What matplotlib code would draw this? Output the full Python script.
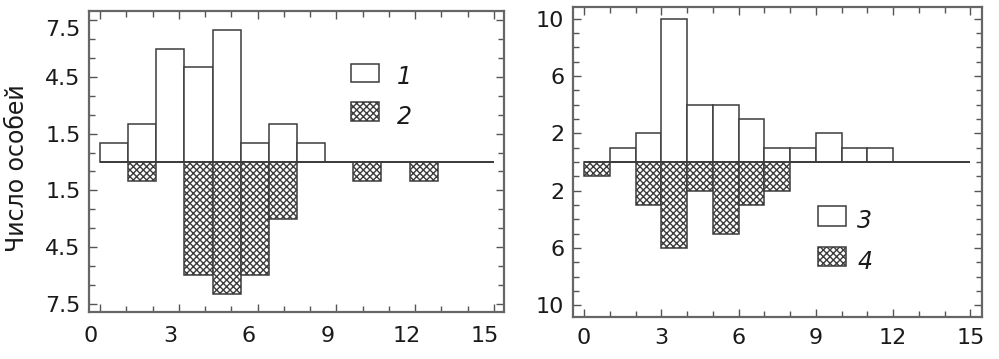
import numpy as np
import matplotlib
matplotlib.use("Agg")
import matplotlib.pyplot as plt
from matplotlib.patches import Rectangle
from matplotlib.ticker import FixedLocator
from matplotlib.transforms import ScaledTranslation

plt.rcParams['font.family'] = ['DejaVu Sans']

# left panel: 14 bins spread over 0..15
left_up = [1, 2, 6, 5, 7, 1, 2, 1, 0, 0, 0, 0, 0, 0]
left_down = [0, 1, 0, 6, 7, 6, 3, 0, 0, 1, 0, 1, 0, 0]
left_yticks = [-7.5, -4.5, -1.5, 1.5, 4.5, 7.5]
left_ylabels = ["7.5", "4.5", "1.5", "1.5", "4.5", "7.5"]

# right panel: 15 bins of width 1
right_up = [0, 1, 2, 10, 4, 4, 3, 1, 1, 2, 1, 1, 0, 0, 0]
right_down = [1, 0, 3, 6, 2, 5, 3, 2, 0, 0, 0, 0, 0, 0, 0]
right_yticks = [-10, -6, -2, 2, 6, 10]
right_ylabels = ["10", "6", "2", "2", "6", "10"]

xticks = [0, 3, 6, 9, 12, 15]
x_max = 15

EDGE = "#3c3c3c"
HATCH = "#505050"
HATCH_PATTERN = "xxxxx"
plt.rcParams['hatch.color'] = HATCH
plt.rcParams['hatch.linewidth'] = 1.0


def draw_panel(ax, up, down, labels):
    n = len(up)
    width = x_max / n
    x = np.arange(n) * width
    ax.bar(x, up, width=width, align="edge", color="white",
           edgecolor=EDGE, linewidth=1.1, zorder=2)
    ax.bar(x, -np.array(down), width=width, align="edge", color="white",
           edgecolor=EDGE, linewidth=1.1, hatch=HATCH_PATTERN, zorder=2)
    ax.hlines(0, 0, x_max, color=EDGE, linewidth=1.1, zorder=3)

    ax.set_xticks(xticks)
    ax.xaxis.set_minor_locator(FixedLocator(np.arange(0, x_max + 1)))
    ax.tick_params(which="both", direction="in", top=True, right=True,
                   color="#555555", labelsize=16, labelcolor="#1a1a1a")
    ax.tick_params(which="major", length=6, width=1)
    ax.tick_params(which="minor", length=4.5, width=1)
    for s in ax.spines.values():
        s.set_color("#666666")
        s.set_linewidth(1.6)

    # legend boxes
    for lab, h in zip(labels, [None, HATCH_PATTERN]):
        bx, by, bw, bh = lab["box"]
        ax.add_patch(Rectangle((bx, by), bw, bh, transform=ax.transAxes,
                               facecolor="white", edgecolor=EDGE,
                               linewidth=1.1, hatch=h, zorder=4))
        ax.text(lab["tx"], lab["ty"], lab["text"], transform=ax.transAxes,
                fontsize=17, fontstyle="italic", ha="center", va="center",
                color="#1a1a1a")


fig = plt.figure(figsize=(9.99, 3.59), dpi=100)

ax1 = fig.add_axes([0.0891, 0.1309, 0.4154, 0.8385])
draw_panel(ax1, left_up, left_down, [
    {"box": (0.631, 0.765, 0.0685, 0.059), "tx": 0.759, "ty": 0.780, "text": "1"},
    {"box": (0.631, 0.636, 0.0685, 0.063), "tx": 0.759, "ty": 0.648, "text": "2"},
])
ax1.set_xlim(-0.42, 15.38)
ax1.set_ylim(-7.94, 7.99)
ax1.set_yticks(left_yticks)
ax1.set_yticklabels(left_ylabels)
ax1.yaxis.set_minor_locator(FixedLocator(np.arange(-7.5, 8, 1)))
ax1.tick_params(axis="x", pad=10)
ax1.tick_params(axis="y", pad=6)
shift = ScaledTranslation(-0.09, 0, fig.dpi_scale_trans)
for lab in ax1.get_xticklabels():
    lab.set_transform(lab.get_transform() + shift)
top_lab = ax1.get_yticklabels()[-1]
top_lab.set_transform(top_lab.get_transform()
                      + ScaledTranslation(0, -0.075, fig.dpi_scale_trans))

ax2 = fig.add_axes([0.5733, 0.1178, 0.4094, 0.8619])
draw_panel(ax2, right_up, right_down, [
    {"box": (0.599, 0.294, 0.069, 0.064), "tx": 0.714, "ty": 0.310, "text": "3"},
    {"box": (0.599, 0.164, 0.069, 0.062), "tx": 0.714, "ty": 0.177, "text": "4"},
])
ax2.set_xlim(-0.44, 15.44)
ax2.set_ylim(-10.8, 10.8)
ax2.set_yticks(right_yticks)
ax2.set_yticklabels(right_ylabels)
ax2.yaxis.set_minor_locator(FixedLocator(np.arange(-10, 11, 1)))
ax2.tick_params(axis="x", pad=8)
ax2.tick_params(axis="y", pad=6)

fig.text(0.017, 1 - 168 / 359, "Число особей", rotation=90,
         ha="center", va="center", fontsize=17, color="#1a1a1a")

fig.savefig("out.png", dpi=100)
